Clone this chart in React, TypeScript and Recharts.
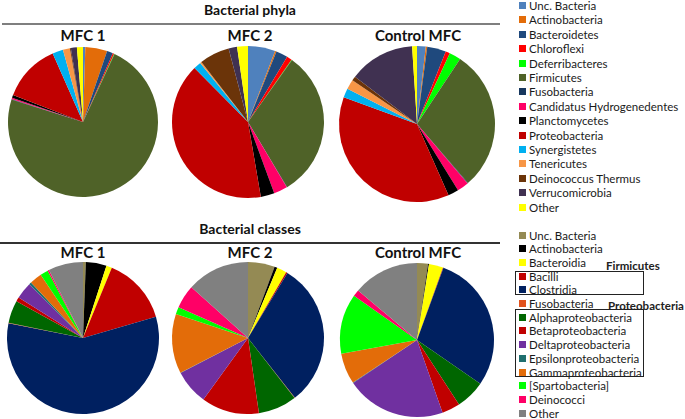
import { PieChart, Pie, Cell } from "recharts";

// legend order is also the slice order (clockwise from 12 o'clock)
const phylaNames = [
  "Unc. Bacteria",
  "Actinobacteria",
  "Bacteroidetes",
  "Chloroflexi",
  "Deferribacteres",
  "Firmicutes",
  "Fusobacteria",
  "Candidatus Hydrogenedentes",
  "Planctomycetes",
  "Proteobacteria",
  "Synergistetes",
  "Tenericutes",
  "Deinococcus Thermus",
  "Verrucomicrobia",
  "Other",
];
const phylaColors = [
  "#4f81bd", "#e36c09", "#1f497d", "#ff0000", "#00ff00",
  "#4f6228", "#17375e", "#ff0066", "#000000", "#c00000",
  "#00b0f0", "#f79646", "#6b3409", "#403151", "#ffff00",
];
const mfc1Phyla = [0.5, 4.7, 1.3, 0.3, 0.1, 72.8, 0.1, 0.3, 0.6, 12.5, 2.3, 1.5, 0.2, 1.3, 1.3];
const mfc2Phyla = [5.8, 0.3, 2.5, 1.1, 0.1, 31.5, 0.1, 2.9, 2.9, 40.2, 1.6, 0.3, 6.4, 1.8, 2.3];
const controlPhyla = [1.8, 0.3, 3.9, 0.9, 2.4, 29.3, 0.1, 2.4, 2.2, 37.1, 1.9, 2.0, 0.9, 13.6, 1.0];

const classNames = [
  "Unc. Bacteria",
  "Actinobacteria",
  "Bacteroidia",
  "Bacilli",
  "Clostridia",
  "Fusobacteria",
  "Alphaproteobacteria",
  "Betaproteobacteria",
  "Deltaproteobacteria",
  "Epsilonproteobacteria",
  "Gammaproteobacteria",
  "[Spartobacteria]",
  "Deinococci",
  "Other",
];
const classColors = [
  "#948a54", "#000000", "#ffff00", "#c00000", "#002060",
  "#e2521d", "#006600", "#c00000", "#7030a0", "#1f6f6f",
  "#e36c09", "#00ff00", "#ff0066", "#808080",
];
const mfc1Classes = [0.6, 4.4, 1.2, 14.3, 57.7, 0.1, 4.8, 0.9, 3.6, 0.5, 2.6, 1.7, 0.3, 7.4];
const mfc2Classes = [5.7, 0.6, 2.1, 0.3, 30.8, 0.1, 8.2, 12.3, 7.4, 0.1, 12.7, 1.5, 5.0, 13.4];
const controlClasses = [2.3, 0.2, 3.0, 0.1, 29.1, 0, 6.2, 3.8, 21.0, 0.1, 6.5, 12.6, 1.4, 13.9];

const pieTitles = ["MFC 1", "MFC 2", "Control MFC"];

const toRows = (names: string[], values: number[]) =>
  names.map((name, i) => ({ name, value: values[i] }));

const pies = [
  { id: "p1", rows: toRows(phylaNames, mfc1Phyla), colors: phylaColors, cx: 83, cy: 122, r: 75 },
  { id: "p2", rows: toRows(phylaNames, mfc2Phyla), colors: phylaColors, cx: 248, cy: 122, r: 76 },
  { id: "p3", rows: toRows(phylaNames, controlPhyla), colors: phylaColors, cx: 417, cy: 124, r: 78 },
  { id: "c1", rows: toRows(classNames, mfc1Classes), colors: classColors, cx: 83, cy: 338, r: 76 },
  { id: "c2", rows: toRows(classNames, mfc2Classes), colors: classColors, cx: 248, cy: 338, r: 76 },
  { id: "c3", rows: toRows(classNames, controlClasses), colors: classColors, cx: 417, cy: 340, r: 77 },
];

const FONT = "Lato, 'Open Sans', sans-serif";

const abs = (style: React.CSSProperties): React.CSSProperties => ({
  position: "absolute",
  ...style,
});

const LegendList = ({
  names,
  colors,
  top,
  step,
}: {
  names: string[];
  colors: string[];
  top: number;
  step: number;
}) => (
  <>
    {names.map((n, i) => (
      <div
        key={n + i}
        style={abs({
          left: 519,
          top: top + i * step - 7,
          height: 14,
          display: "flex",
          alignItems: "center",
          fontSize: 11.5,
          color: "#1a1a1a",
          whiteSpace: "nowrap",
        })}
      >
        <span
          style={{
            width: 7,
            height: 7,
            background: colors[i],
            marginRight: 3,
            display: "inline-block",
          }}
        />
        {n}
      </div>
    ))}
  </>
);

const Title = ({ text, x, y, size }: { text: string; x: number; y: number; size: number }) => (
  <div
    style={abs({
      left: x - 100,
      top: y - size * 0.65,
      width: 200,
      textAlign: "center",
      fontSize: size,
      fontWeight: 700,
      lineHeight: `${size * 1.3}px`,
      color: "#111",
      whiteSpace: "nowrap",
    })}
  >
    {text}
  </div>
);

export default function App() {
  return (
    <div
      style={abs({
        left: 0,
        top: 0,
        width: 685,
        height: 419,
        background: "#fff",
        fontFamily: FONT,
        overflow: "hidden",
      })}
    >
      <PieChart width={685} height={419} margin={{ top: 0, right: 0, bottom: 0, left: 0 }}>
        {pies.map((p) => (
          <Pie
            key={p.id}
            data={p.rows}
            dataKey="value"
            nameKey="name"
            cx={p.cx}
            cy={p.cy}
            outerRadius={p.r}
            startAngle={90}
            endAngle={-270}
            stroke="none"
            isAnimationActive={false}
          >
            {p.rows.map((_, i) => (
              <Cell key={i} fill={p.colors[i]} />
            ))}
          </Pie>
        ))}
      </PieChart>

      {/* section headers and rules */}
      <Title text="Bacterial phyla" x={250} y={10} size={14} />
      <div style={abs({ left: 2, top: 23, width: 498, height: 2, background: "#7f7f7f" })} />
      <Title text="Bacterial classes" x={250} y={229} size={14} />
      <div style={abs({ left: 0, top: 242, width: 500, height: 1.5, background: "#333" })} />

      {pieTitles.map((t, i) => (
        <Title key={"a" + t} text={t} x={[83, 250, 418][i]} y={36} size={15} />
      ))}
      {pieTitles.map((t, i) => (
        <Title key={"b" + t} text={t} x={[83, 250, 418][i]} y={253} size={15} />
      ))}

      <LegendList names={phylaNames} colors={phylaColors} top={5.5} step={14.4} />
      <LegendList names={classNames} colors={classColors} top={235} step={13.7} />

      {/* grouping boxes in the class legend */}
      <div style={abs({ left: 515, top: 271, width: 129, height: 24, border: "1.5px solid #222", boxSizing: "border-box" })} />
      <div style={abs({ left: 515, top: 309, width: 129, height: 68, border: "1.5px solid #222", boxSizing: "border-box" })} />
      <div style={abs({ left: 606, top: 259, fontSize: 11.5, fontWeight: 700, color: "#222" })}>Firmicutes</div>
      <div style={abs({ left: 608, top: 299, fontSize: 11.5, fontWeight: 700, color: "#222" })}>Proteobacteria</div>
    </div>
  );
}
